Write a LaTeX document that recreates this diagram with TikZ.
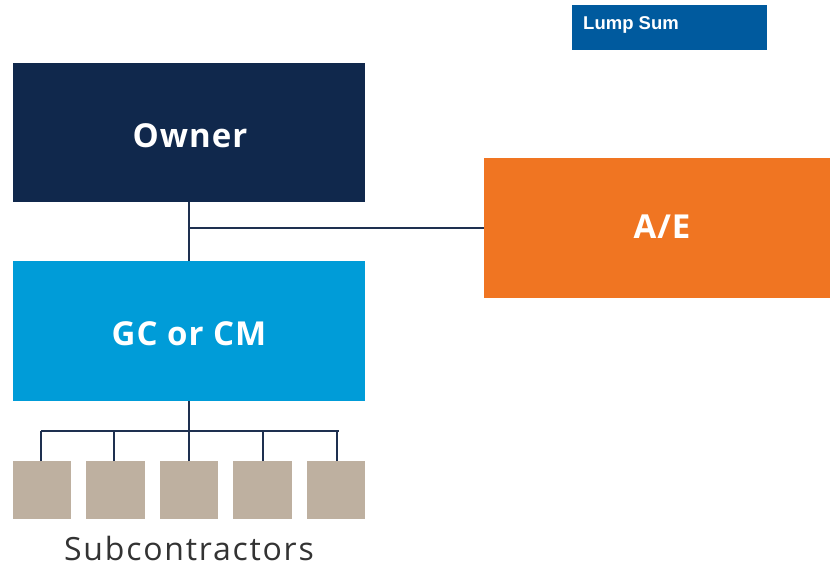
\documentclass[tikz,border=0pt]{standalone}
\usepackage{fontspec}
\setmainfont{Open Sans}
\newfontfamily\labelfont{Liberation Sans}
\newfontfamily\boxfont[LetterSpace=3]{Open Sans}
\newfontfamily\capfont[LetterSpace=5.5]{Open Sans}
\definecolor{ownerblue}{HTML}{10284C}
\definecolor{gcblue}{HTML}{009CD8}
\definecolor{aeorange}{HTML}{F07522}
\definecolor{subtan}{HTML}{BEB0A0}
\definecolor{tagblue}{HTML}{005A9E}
\definecolor{linkcol}{HTML}{1E3050}
\definecolor{captiongray}{HTML}{333333}
\begin{document}
\begin{tikzpicture}[x=1pt,y=-1pt,
  party/.style={draw=none,inner sep=0pt,anchor=north west},
  partylabel/.style={text=white,font=\boxfont\fontsize{33}{40}\selectfont\bfseries,anchor=base,inner sep=0pt},
  subbox/.style={fill=subtan,draw=none,inner sep=0pt,anchor=north west},
  link/.style={draw=linkcol,line width=1.4pt}]
\useasboundingbox (0,0) rectangle (830,568);
% contract type tag
\node[party,fill=tagblue,minimum width=195pt,minimum height=45pt] (tag) at (572,5) {};
\node[anchor=base west,inner sep=0pt,text=white,font=\labelfont\fontsize{18.5}{22}\selectfont\bfseries] (tagtext) at (583,29) {Lump Sum};
% main parties
\node[party,fill=ownerblue,minimum width=352pt,minimum height=139pt] (owner) at (13,63) {};
\node[party,fill=gcblue,minimum width=352pt,minimum height=140pt] (gc) at (13,261) {};
\node[party,fill=aeorange,minimum width=346pt,minimum height=140pt] (ae) at (484,158) {};
\node[partylabel] (ownertext) at (190,147) {Owner};
\node[partylabel] (gctext) at (189,345) {GC or CM};
\node[partylabel] (aetext) at (662,238) {A/E};
% subcontractor boxes
\node[subbox,minimum width=58pt,minimum height=58pt] (s1) at (13,461) {};
\node[subbox,minimum width=59pt,minimum height=58pt] (s2) at (86,461) {};
\node[subbox,minimum width=58pt,minimum height=58pt] (s3) at (160,461) {};
\node[subbox,minimum width=59pt,minimum height=58pt] (s4) at (233,461) {};
\node[subbox,minimum width=58pt,minimum height=58pt] (s5) at (307,461) {};
\node[anchor=base,inner sep=0pt,text=captiongray,font=\capfont\fontsize{32}{38}\selectfont] (subtext) at (189,560) {Subcontractors};
% owner -- GC and the A/E branch
\coordinate (tee) at (189,228);
\draw[link] (owner.south -| tee) -- (gc.north -| tee);
\draw[link] (tee) -- (tee -| ae.west);
% GC down to the subcontractors
\coordinate (bus) at (189,431);
\draw[link] (gc.south -| bus) -- (bus);
\draw[link] (41,431) -- (339,431);
\draw[link] (s1.north -| 41,0) -- (41,431);
\draw[link] (s2.north -| 114,0) -- (114,431);
\draw[link] (s3.north -| 189,0) -- (189,431);
\draw[link] (s4.north -| 263,0) -- (263,431);
\draw[link] (s5.north -| 337,0) -- (337,431);
\end{tikzpicture}
\end{document}
